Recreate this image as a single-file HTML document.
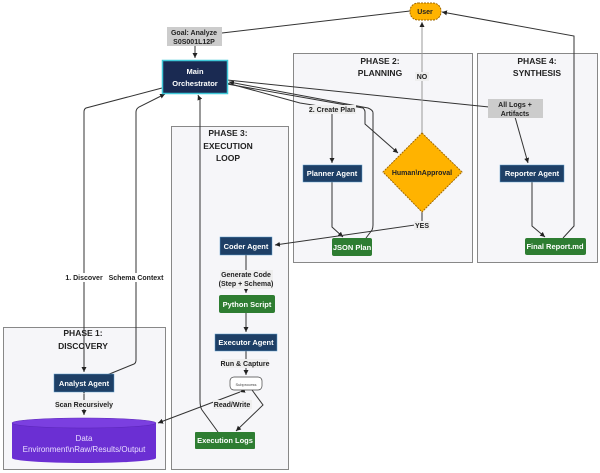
<!DOCTYPE html>
<html><head><meta charset="utf-8"><style>
body{margin:0;background:#fff;width:600px;height:473px;overflow:hidden}
svg{display:block;font-family:"Liberation Sans",sans-serif}
.t{font-weight:700;font-size:8.5px;fill:#222;text-anchor:middle}
.w{font-weight:700;font-size:7.5px;fill:#fff;text-anchor:middle}
.l{font-weight:700;font-size:7px;fill:#222;text-anchor:middle}
.e{fill:none;stroke:#333;stroke-width:1}
</style></head><body>
<svg width="600" height="473" viewBox="0 0 600 473">
<defs><marker id="a" markerWidth="6" markerHeight="6" refX="5" refY="3" orient="auto"><path d="M0,0.5 L5,3 L0,5.5z" fill="#222"/></marker></defs>
<rect x="293.5" y="53.5" width="179" height="209" fill="#f6f6f9" stroke="#888"/>
<rect x="477.5" y="53.5" width="120" height="209" fill="#f6f6f9" stroke="#888"/>
<rect x="171.5" y="126.5" width="117" height="343" fill="#f6f6f9" stroke="#888"/>
<rect x="3.5" y="327.5" width="162" height="142" fill="#f6f6f9" stroke="#888"/>
<text class="t" x="380" y="64">PHASE 2:</text><text class="t" x="380" y="76">PLANNING</text>
<text class="t" x="537" y="64">PHASE 4:</text><text class="t" x="537" y="76">SYNTHESIS</text>
<text class="t" x="228" y="136">PHASE 3:</text><text class="t" x="228" y="149">EXECUTION</text><text class="t" x="228" y="161">LOOP</text>
<text class="t" x="83" y="336">PHASE 1:</text><text class="t" x="83" y="349">DISCOVERY</text>
<path class="e" d="M222,33 L410,11"/>
<path class="e" d="M195,46 L195,58" marker-end="url(#a)"/>
<path class="e" d="M162,88 L86,108 Q84,109 84,112 L84,372" marker-end="url(#a)"/>
<path class="e" d="M107,375 L134,364 Q136,363 136,360 L136,112 Q136,109 139,107 L165,94" marker-end="url(#a)"/>
<path class="e" d="M218,432 L202,410 Q200,407 200,400 L200,100 L198,95" marker-end="url(#a)"/>
<path class="e" d="M227,83 L300,103 L332,108 L332,163" marker-end="url(#a)"/>
<path class="e" d="M227,84 L363,108 Q365,110 365,112 L365,124 L398,153" marker-end="url(#a)"/>
<path class="e" d="M366,238 L372,230 Q373,228 373,225 L373,113 Q373,110 368,108 L229,82" marker-end="url(#a)"/>
<path class="e" d="M227,80 L489,107"/>
<path class="e" d="M515,117 L528,163" marker-end="url(#a)"/>
<path class="e" d="M332,182 L332,227 L343,237" marker-end="url(#a)"/>
<path d="M422,133 L422,22" stroke="#999" fill="none" marker-end="url(#a)"/>
<path class="e" d="M422,212 L422,224 L275,245" marker-end="url(#a)"/>
<path class="e" d="M532,182 L532,226 L545,237" marker-end="url(#a)"/>
<path class="e" d="M563,238 L574,226 L574,36 L442,12" marker-end="url(#a)"/>
<path class="e" d="M246,255 L246,293" marker-end="url(#a)"/>
<path class="e" d="M246,313 L246,332" marker-end="url(#a)"/>
<path class="e" d="M246,351 L246,375" marker-end="url(#a)"/>
<path class="e" d="M252,390 L263,405 L236,431" marker-end="url(#a)"/>
<path class="e" d="M240,392 L158,423" marker-start="url(#a)" marker-end="url(#a)"/>
<path class="e" d="M84,394 L84,415" marker-start="url(#a)" marker-end="url(#a)"/>
<rect x="167" y="27" width="55" height="19" fill="#ccc"/>
<text class="l" x="194" y="35">Goal: Analyze</text><text class="l" x="194" y="44">S0S001L12P</text>
<rect x="309" y="105" width="47" height="9" fill="#eee"/><text class="l" x="332" y="112">2. Create Plan</text>
<rect x="415" y="72" width="14" height="9" fill="#eee"/><text class="l" x="422" y="79">NO</text>
<rect x="414" y="221" width="16" height="9" fill="#eee"/><text class="l" x="422" y="228">YES</text>
<rect x="488" y="99" width="55" height="19" fill="#ccc"/>
<text class="l" x="515" y="107">All Logs +</text><text class="l" x="515" y="116">Artifacts</text>
<rect x="220" y="270" width="53" height="19" fill="#eee"/>
<text class="l" x="246" y="277">Generate Code</text><text class="l" x="246" y="286">(Step + Schema)</text>
<rect x="222" y="359" width="46" height="9" fill="#eee"/><text class="l" x="245" y="366">Run &amp; Capture</text>
<rect x="213" y="400" width="39" height="9" fill="#eee"/><text class="l" x="232" y="407">Read/Write</text>
<rect x="65" y="273" width="37" height="9" fill="#fff"/><text class="l" x="84" y="280">1. Discover</text>
<rect x="110" y="273" width="53" height="9" fill="#fff"/><text class="l" x="136" y="280">Schema Context</text>
<rect x="56" y="400" width="56" height="9" fill="#eee"/><text class="l" x="84" y="407">Scan Recursively</text>
<rect x="410" y="3" width="31" height="17" rx="8" fill="#ffb300" stroke="#a06800" stroke-dasharray="2,1"/>
<text class="l" x="425" y="14">User</text>
<rect x="162.5" y="60.5" width="65" height="33" fill="#1a2a52" stroke="#3fc8d8" stroke-width="1.5"/>
<text class="w" x="195" y="74" font-size="9">Main</text><text class="w" x="195" y="86" font-size="9">Orchestrator</text>
<rect x="303" y="165" width="59" height="17" fill="#1e3f66" stroke="#5fa0d0" stroke-width=".5"/><text class="w" x="332" y="176">Planner Agent</text>
<path d="M422,133 L462,172 L422,212 L383,172z" fill="#ffb300" stroke="#a06800" stroke-dasharray="2,1"/>
<text class="l" x="422" y="175" font-size="7">Human\nApproval</text>
<rect x="332" y="238" width="40" height="18" rx="2" fill="#2e7d32"/><text class="w" x="352" y="250">JSON Plan</text>
<rect x="500" y="165" width="64" height="17" fill="#1e3f66" stroke="#5fa0d0" stroke-width=".5"/><text class="w" x="532" y="176">Reporter Agent</text>
<rect x="525" y="238" width="61" height="17" rx="2" fill="#2e7d32"/><text class="w" x="555" y="249" font-size="7">Final Report.md</text>
<rect x="220" y="237" width="52" height="18" fill="#1e3f66" stroke="#5fa0d0" stroke-width=".5"/><text class="w" x="246" y="249">Coder Agent</text>
<rect x="219" y="295" width="56" height="18" rx="2" fill="#2e7d32"/><text class="w" x="247" y="307">Python Script</text>
<rect x="215" y="334" width="62" height="17" fill="#1e3f66" stroke="#5fa0d0" stroke-width=".5"/><text class="w" x="246" y="345">Executor Agent</text>
<rect x="230" y="377" width="32" height="13" rx="4" fill="#fff" stroke="#444" stroke-width=".7"/><text x="246" y="386" font-size="4" text-anchor="middle" fill="#444">Subprocess</text>
<rect x="195" y="432" width="60" height="17" rx="1" fill="#2e7d32"/><text class="w" x="225" y="443">Execution Logs</text>
<rect x="54" y="374" width="60" height="18" fill="#1e3f66" stroke="#5fa0d0" stroke-width=".5"/><text class="w" x="84" y="386">Analyst Agent</text>
<path d="M12,423 L12,458 A72,5 0 0 0 156,458 L156,423" fill="#6b2fd3"/>
<ellipse cx="84" cy="423" rx="72" ry="5" fill="#7b3fe0" stroke="#5a25b8" stroke-width=".5"/>
<text x="84" y="441" font-size="8" fill="#e8dcff" text-anchor="middle">Data</text>
<text x="84" y="452" font-size="8" fill="#e8dcff" text-anchor="middle">Environment\nRaw/Results/Output</text>
</svg>
</body></html>
